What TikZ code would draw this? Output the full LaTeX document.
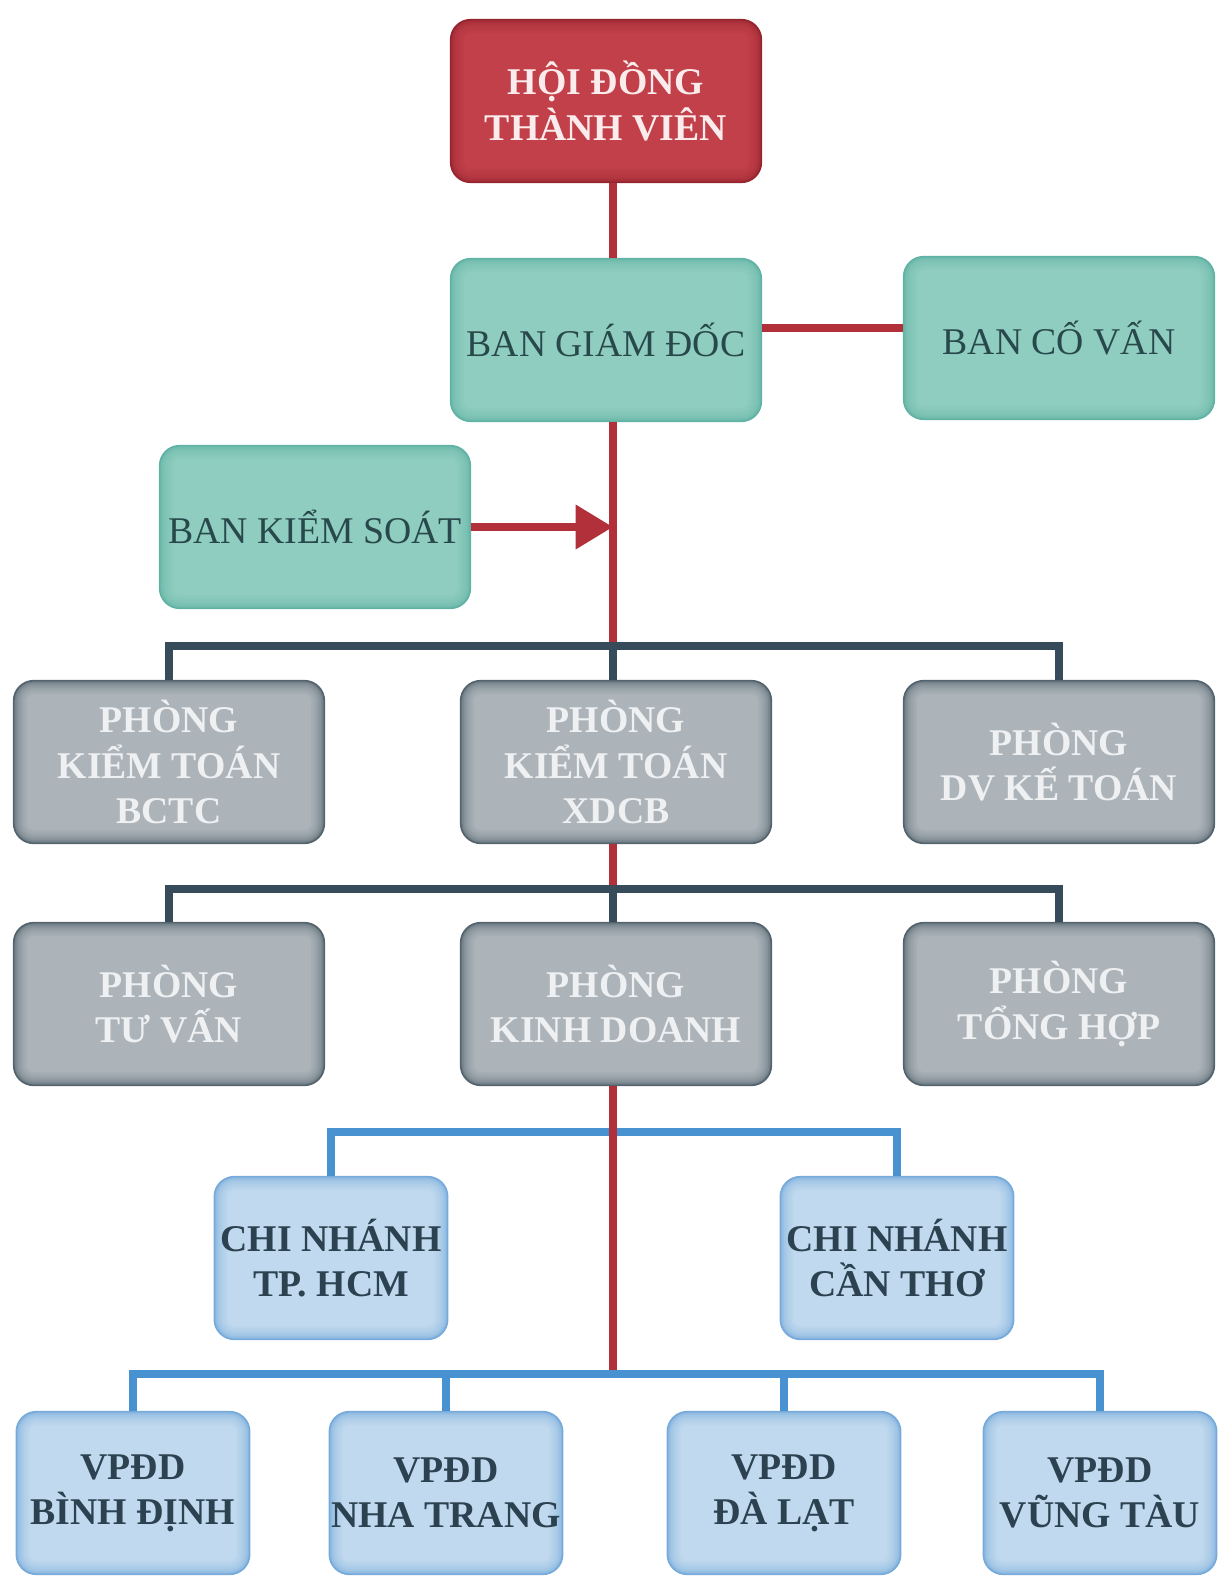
\documentclass[tikz,border=0pt]{standalone}
\usepackage{fontspec}
\setmainfont{Liberation Serif}
\usetikzlibrary{arrows.meta}

\definecolor{boardRed}{RGB}{194,64,74}
\definecolor{boardEdge}{RGB}{150,36,46}
\definecolor{trunkRed}{RGB}{178,48,58}
\definecolor{tealFill}{RGB}{142,205,191}
\definecolor{tealEdge}{RGB}{96,178,164}
\definecolor{tealText}{RGB}{40,72,76}
\definecolor{grayFill}{RGB}{172,180,186}
\definecolor{grayEdge}{RGB}{84,100,110}
\definecolor{grayText}{RGB}{238,240,242}
\definecolor{busDark}{RGB}{55,76,90}
\definecolor{blueFill}{RGB}{192,217,238}
\definecolor{blueEdge}{RGB}{118,170,218}
\definecolor{blueLine}{RGB}{72,146,210}
\definecolor{slateText}{RGB}{45,66,80}

\tikzset{every picture/.style={line width=0.75pt}}
\tikzset{
  innerglow/.style 2 args={path picture={
    \foreach \w/\p in {20/8,17/14,14/21,11/30,8/41,5/55,2.5/72}{
      \draw [#1!\p!#2, line width=\w pt, rounded corners=15pt]
        (path picture bounding box.south west) rectangle (path picture bounding box.north east);}
  }},
  orgbox/.style={rounded corners=15pt, line width=1.2pt, align=center, inner sep=0pt,
    minimum width=233pt, minimum height=122pt, font=\fontsize{28.3}{34}\selectfont},
  boardbox/.style={orgbox, fill=boardRed, draw=boardEdge, innerglow={boardEdge}{boardRed},
    text={rgb,255:red,250;green,236;blue,236}, font=\bfseries\fontsize{28.3}{34}\selectfont},
  tealbox/.style={orgbox, fill=tealFill, draw=tealEdge, innerglow={tealEdge}{tealFill}, text=tealText},
  deptbox/.style={orgbox, fill=grayFill, draw=grayEdge, innerglow={grayEdge}{grayFill}, text=grayText,
    font=\bfseries\fontsize{28.3}{34}\selectfont},
  branchbox/.style={orgbox, fill=blueFill, draw=blueEdge, innerglow={blueEdge}{blueFill}, text=slateText,
    minimum width=175pt, minimum height=122pt, font=\bfseries\fontsize{28.3}{34}\selectfont},
  redline/.style={draw=trunkRed, line width=6pt},
  darkline/.style={draw=busDark, line width=6pt},
  blueline/.style={draw=blueLine, line width=6pt}
}

\begin{document}
\begin{tikzpicture}[x=0.75pt,y=0.75pt,yscale=-1,xscale=1]
\useasboundingbox (0,0) rectangle (1223,1583);

%Shape: Rounded Rect
\node [boardbox] (hdtv) at (606,101) {HỘI ĐỒNG\\THÀNH VIÊN};
\node [tealbox] (bgd) at (606,340) {BAN GIÁM ĐỐC};
\node [tealbox] (bcv) at (1059,338) {BAN CỐ VẤN};
\node [tealbox] (bks) at (315,527) {BAN KIỂM SOÁT};

%Shape: Rounded Rect
\node [deptbox] (bctc) at (169,762) {PHÒNG\\KIỂM TOÁN\\BCTC};
\node [deptbox] (xdcb) at (616,762) {PHÒNG\\KIỂM TOÁN\\XDCB};
\node [deptbox] (dvkt) at (1059,762) {PHÒNG\\DV KẾ TOÁN};
\node [deptbox] (tuvan) at (169,1004) {PHÒNG\\TƯ VẤN};
\node [deptbox] (kd) at (616,1004) {PHÒNG\\KINH DOANH};
\node [deptbox] (tonghop) at (1059,1004) {PHÒNG\\TỔNG HỢP};

%Shape: Rounded Rect
\node [branchbox] (hcm) at (331,1258) {CHI NHÁNH\\TP. HCM};
\node [branchbox] (cantho) at (897,1258) {CHI NHÁNH\\CẦN THƠ};
\node [branchbox] (binhdinh) at (133,1493) {VPĐD\\BÌNH ĐỊNH};
\node [branchbox] (nhatrang) at (446,1493) {VPĐD\\NHA TRANG};
\node [branchbox] (dalat) at (784,1493) {VPĐD\\ĐÀ LẠT};
\node [branchbox] (vungtau) at (1100,1493) {VPĐD\\VŨNG TÀU};

% bus levels on the trunk
\coordinate (busA) at (613,646);
\coordinate (busB) at (613,889);
\coordinate (busC) at (613,1132);
\coordinate (busD) at (613,1374);
\coordinate (advLink) at (830,328);

%Straight Lines
\draw [redline] (hdtv.south -| busA) -- (bgd.north -| busA);
\draw [redline] (bgd.east |- advLink) -- (bcv.west |- advLink);
\draw [redline] (bgd.south -| busA) -- (busA);
\draw [redline, -{Triangle[length=28pt,width=32pt]}] (bks.east) -- (busA |- bks.east);
\draw [redline] (xdcb.south -| busA) -- (busB);

%Straight Lines
\draw [darkline] (bctc.north) |- (busA) -| (dvkt.north);
\draw [darkline] (busA) -- (xdcb.north -| busA);
\draw [darkline] (tuvan.north) |- (busB) -| (tonghop.north);
\draw [darkline] (busB) -- (kd.north -| busB);

%Straight Lines
\draw [blueline] (hcm.north) |- (busC) -| (cantho.north);
\draw [redline] (kd.south -| busA) -- (busD);
\draw [blueline] (binhdinh.north) |- (busD) -| (vungtau.north);
\draw [blueline] (nhatrang.north) |- (busD);
\draw [blueline] (dalat.north) |- (busD);

\end{tikzpicture}
\end{document}
